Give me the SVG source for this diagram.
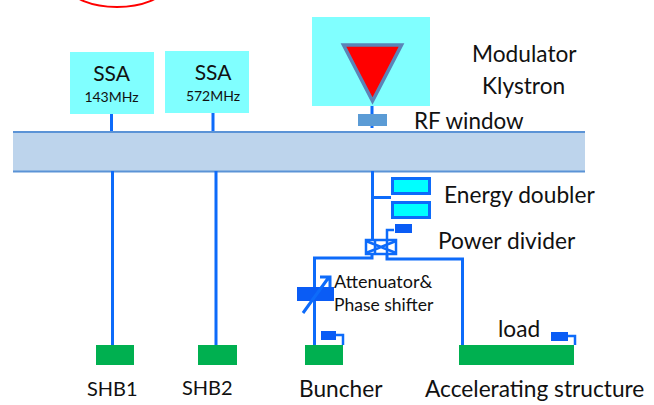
<svg xmlns="http://www.w3.org/2000/svg" width="654" height="405" viewBox="0 0 654 405">
<style>
text{font-family:Lato,"Open Sans","Liberation Sans",sans-serif;fill:#111}
.w{fill:none;stroke:#0d6bfa;stroke-width:3}
.t{fill:none;stroke:#0d6bfa;stroke-width:2.5}
.ssa{fill:#80ffff}
.g{fill:#00b050}
.b{fill:#0a5cf5}
.l{font-size:22.700px}
</style>
<rect width="654" height="405" fill="#fff"/>
<ellipse cx="117" cy="-12" rx="46" ry="19" fill="none" stroke="#f00" stroke-width="2"/>
<g id="beam"><rect x="13" y="132" width="572" height="39" fill="#bdd4ec"/><path d="M13 132H585M13 171.500H585" fill="none" stroke="#5b93d6" stroke-width="2"/></g>
<g id="connectors">
<path class="w" d="M111.500 113V131M213 112V131M372 100V128M112.500 171V345M216 171V345M372.500 171V240M372 197.500H391"/>
<path class="w" d="M372 253V258H314.500V345M387 253V259H462.500V345"/>
<path class="t" d="M387 239V230H394"/>
<path class="t" d="M335 335H343V345M568 336H575V345"/>
</g>
<g id="ssa1"><rect class="ssa" x="70" y="52" width="84" height="62"/><text x="111.500" y="81" font-size="21" text-anchor="middle">SSA</text><text x="111.500" y="102" font-size="14" text-anchor="middle">143MHz</text></g>
<g id="ssa2"><rect class="ssa" x="165" y="51" width="84" height="62"/><text x="213" y="80" font-size="21" text-anchor="middle">SSA</text><text x="213" y="101" font-size="14" text-anchor="middle">572MHz</text></g>
<g id="klystron"><rect class="ssa" x="312" y="17" width="118" height="89"/><path d="M343.500 45H401.500L372.500 101Z" fill="#f00" stroke="#5b84b8" stroke-width="3.500"/><text class="l" x="472" y="62">Modulator</text><text class="l" x="482" y="94">Klystron</text></g>
<g id="rfwindow"><rect x="358" y="114" width="29" height="12" fill="#5b9bd5"/><text x="414" y="129" font-size="22.400">RF window</text></g>
<g id="doubler"><rect x="392.500" y="178.500" width="37" height="15" fill="#00ffff" stroke="#0d6bfa" stroke-width="3"/><rect x="392.500" y="202.500" width="37" height="15" fill="#00ffff" stroke="#0d6bfa" stroke-width="3"/><text class="l" x="444" y="203">Energy doubler</text></g>
<g id="divider"><rect x="366" y="240" width="30" height="14" fill="none" stroke="#0d6bfa" stroke-width="2.500"/><path d="M366 241L396 253M396 241L366 253M375 240V254M387 240V254" fill="none" stroke="#0d6bfa" stroke-width="2.500"/><rect x="395" y="224" width="17" height="9" class="b"/><text class="l" x="438" y="249">Power divider</text></g>
<g id="attenuator"><rect x="297" y="287" width="37" height="14" class="b"/><path d="M303 313L329 277M320 277H330V287" fill="none" stroke="#0d6bfa" stroke-width="3"/><text x="334" y="288" font-size="18">Attenuator&amp;</text><text x="334" y="311" font-size="17.500">Phase shifter</text></g>
<g id="shb1"><rect class="g" x="96" y="345" width="38" height="20"/><text x="87" y="396" font-size="20">SHB1</text></g>
<g id="shb2"><rect class="g" x="198" y="345" width="39" height="20"/><text x="182" y="395" font-size="20">SHB2</text></g>
<g id="buncher"><rect class="g" x="305" y="345" width="38" height="20"/><rect x="321" y="331" width="15" height="9" class="b"/><text class="l" x="299" y="397">Buncher</text></g>
<g id="structure"><rect class="g" x="459" y="345" width="115" height="20"/><rect x="551" y="332" width="17" height="9" class="b"/><text class="l" x="498" y="337">load</text><text class="l" x="425" y="397">Accelerating structure</text></g>
</svg>
